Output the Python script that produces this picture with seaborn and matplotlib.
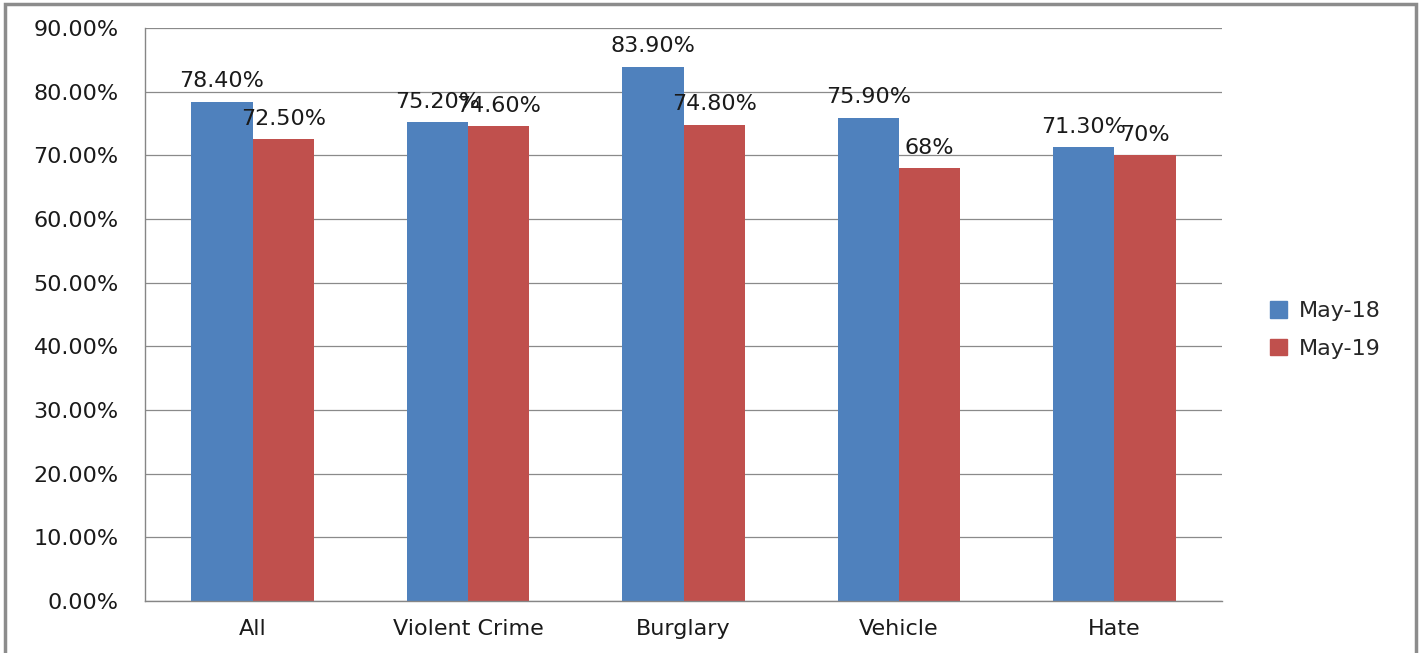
import matplotlib
matplotlib.use("Agg")
import matplotlib.pyplot as plt
import seaborn as sns
import pandas as pd
from matplotlib.patches import Rectangle
from matplotlib.ticker import FixedLocator

categories = ["All", "Violent Crime", "Burglary", "Vehicle", "Hate"]
series_names = ["May-18", "May-19"]
may18 = [78.4, 75.2, 83.9, 75.9, 71.3]
may19 = [72.5, 74.6, 74.8, 68.0, 70.0]
labels18 = ["78.40%", "75.20%", "83.90%", "75.90%", "71.30%"]
labels19 = ["72.50%", "74.60%", "74.80%", "68%", "70%"]
yticks = [0, 10, 20, 30, 40, 50, 60, 70, 80, 90]

colors = ["#4F81BD", "#C0504D"]

df = pd.DataFrame({
    "category": categories * 2,
    "series": [series_names[0]] * len(categories) + [series_names[1]] * len(categories),
    "value": may18 + may19,
})

sns.set_style("white")
plt.rcParams["font.family"] = ["DejaVu Sans"]

FS = 16
TXT = "#1a1a1a"

fig = plt.figure(figsize=(14.22, 6.53), dpi=100)
ax = fig.add_axes([145 / 1422, 1 - 601 / 653, (1222 - 145) / 1422, (601 - 28) / 653])

sns.barplot(data=df, x="category", y="value", hue="series", order=categories,
            hue_order=series_names, palette=colors, width=0.57, gap=0,
            saturation=1, ax=ax, legend=False, edgecolor="none", linewidth=0)

for cont, labs in zip(ax.containers, [labels18, labels19]):
    ax.bar_label(cont, labels=labs, padding=7.5, fontsize=FS, color=TXT)

ax.set_ylim(0, 90)
ax.set_xlim(-0.5, len(categories) - 0.5)
ax.set_yticks(yticks)
ax.set_yticklabels([f"{v:.2f}%" for v in yticks], fontsize=FS, color=TXT)
ax.set_xlabel("")
ax.set_ylabel("")
ax.tick_params(axis="x", which="major", length=0, pad=13, labelsize=FS, labelcolor=TXT)
ax.xaxis.set_minor_locator(FixedLocator([i - 0.5 for i in range(len(categories) + 1)]))
ax.tick_params(axis="x", which="minor", length=6, width=1, color="#868686", direction="out")
ax.tick_params(axis="y", length=7, width=1, color="#868686", direction="out", pad=12)

ax.grid(axis="y", color="#8a8a8a", linewidth=0.9)
ax.set_axisbelow(True)
for side in ["top", "right"]:
    ax.spines[side].set_visible(False)
for side in ["left", "bottom"]:
    ax.spines[side].set_color("#868686")
    ax.spines[side].set_linewidth(1)

handles = [Rectangle((0, 0), 1, 1, color=c) for c in colors]
fig.legend(handles, series_names, loc="center left", bbox_to_anchor=(1250 / 1422, 1 - 330 / 653),
           frameon=False, fontsize=FS, handlelength=0.75, handleheight=0.75,
           handletextpad=0.55, labelspacing=0.8)

fig.patches.append(Rectangle((5 / 1422, -0.02), (1416 - 5) / 1422, 1.02 - 4 / 653,
                             transform=fig.transFigure, fill=False,
                             edgecolor="#8c8c8c", linewidth=2.5))

fig.savefig("out.png", dpi=100)
